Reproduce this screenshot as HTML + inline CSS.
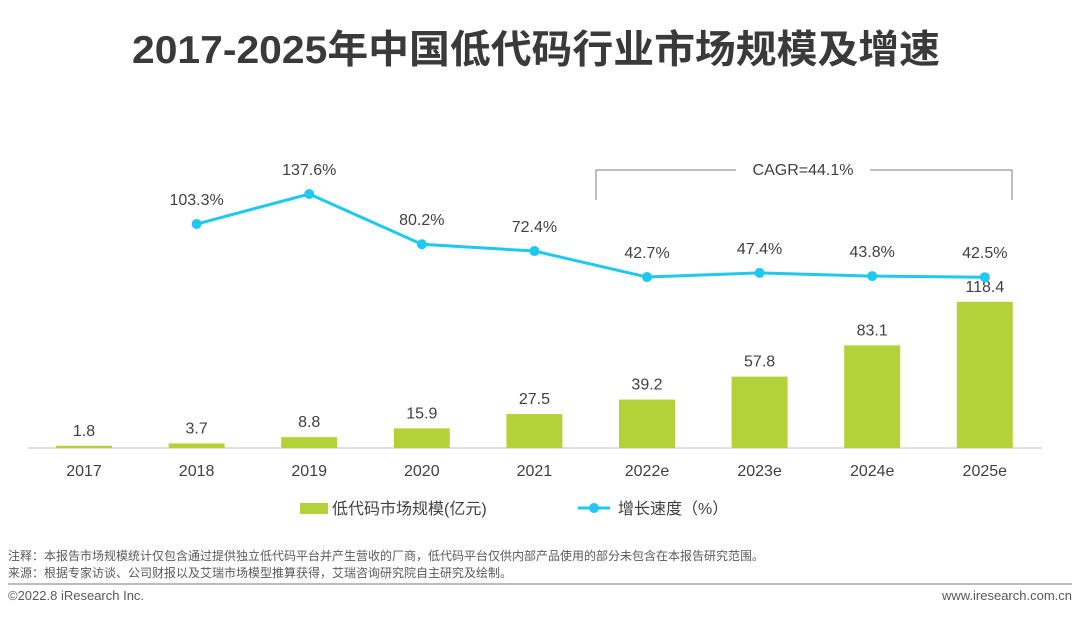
<!DOCTYPE html>
<html><head><meta charset="utf-8"><style>
body{margin:0;background:#fff;width:1080px;height:618px;overflow:hidden;font-family:"Liberation Sans","Noto Sans CJK SC",sans-serif;}
svg text{font-family:"Liberation Sans","Noto Sans CJK SC",sans-serif;}
</style></head><body>
<svg id="c" width="1080" height="618" xmlns="http://www.w3.org/2000/svg">
<text x="132" y="63" textLength="808" lengthAdjust="spacingAndGlyphs" font-size="39" font-weight="bold" fill="#3a3a3a">2017-2025年中国低代码行业市场规模及增速</text>
<line x1="28" y1="448" x2="1042" y2="448" stroke="#bfbfbf" stroke-width="1"/>
<g>
<path d="M596 200 V170 H736 M870 170 H1012 V200" fill="none" stroke="#7f7f7f" stroke-width="1"/>
<text x="803" y="175" text-anchor="middle" font-size="16" fill="#404040">CAGR=44.1%</text>
</g>
<g>
<rect x="300" y="503" width="28" height="11" fill="#b3d23a"/>
<text x="332" y="514" font-size="16" fill="#404040">低代码市场规模(亿元)</text>
<line x1="578" y1="508" x2="610" y2="508" stroke="#1ec8ef" stroke-width="3"/>
<circle cx="594" cy="508" r="5" fill="#1ec8ef"/>
<text x="618" y="514" font-size="16" fill="#404040">增长速度（%）</text>
</g>
<text x="8" y="560" font-size="12" fill="#595959">注释：本报告市场规模统计仅包含通过提供独立低代码平台并产生营收的厂商，低代码平台仅供内部产品使用的部分未包含在本报告研究范围。</text>
<text x="8" y="577" font-size="12" fill="#595959">来源：根据专家访谈、公司财报以及艾瑞市场模型推算获得，艾瑞咨询研究院自主研究及绘制。</text>
<line x1="8" y1="584" x2="1072" y2="584" stroke="#a6a6a6" stroke-width="1.5"/>
<text x="8" y="600" font-size="13" fill="#595959">©2022.8 iResearch Inc.</text>
<text x="1072" y="600" text-anchor="end" font-size="13" fill="#595959">www.iresearch.com.cn</text>
<g id="bars"></g><g id="line"></g>
</svg>
<script>
const categories=["2017","2018","2019","2020","2021","2022e","2023e","2024e","2025e"];
const marketSize=[1.8,3.7,8.8,15.9,27.5,39.2,57.8,83.1,118.4];
const growth=[null,103.3,137.6,80.2,72.4,42.7,47.4,43.8,42.5];
const NS="http://www.w3.org/2000/svg";
const xPos=i=>84+i*112.6;
const yBar=v=>448-v*1.235;
const yLine=v=>194+(137.6-v)*0.875;
const bars=document.getElementById('bars'),line=document.getElementById('line');
function mk(t,a,p){const e=document.createElementNS(NS,t);for(const k in a)e.setAttribute(k,a[k]);p.appendChild(e);return e;}
categories.forEach((c,i)=>{
 const x=xPos(i),y=yBar(marketSize[i]);
 const r=mk('rect',{x:x-28,y:y,width:56,height:448-y,fill:'#b3d23a'},bars);
 
 
 const t=mk('text',{x:x,y:y-10,'text-anchor':'middle','font-size':16,fill:'#404040'},bars);t.textContent=marketSize[i];
 
 
 const l=mk('text',{x:x,y:476,'text-anchor':'middle','font-size':16,fill:'#404040'},bars);l.textContent=c;
 
 
});
let d='';
growth.forEach((v,i)=>{if(v==null)return;d+=(d?'L':'M')+xPos(i)+' '+yLine(v);});
const p=mk('path',{d:d,fill:'none',stroke:'#1ec8ef','stroke-width':3},line);


growth.forEach((v,i)=>{if(v==null)return;
 const c=mk('circle',{cx:xPos(i),cy:yLine(v),r:5,fill:'#1ec8ef'},line);
 
 
 const t=mk('text',{x:xPos(i),y:yLine(v)-19,'text-anchor':'middle','font-size':16,fill:'#404040'},line);t.textContent=v.toFixed(1)+'%';
 
 
});
</script>
</body></html>
